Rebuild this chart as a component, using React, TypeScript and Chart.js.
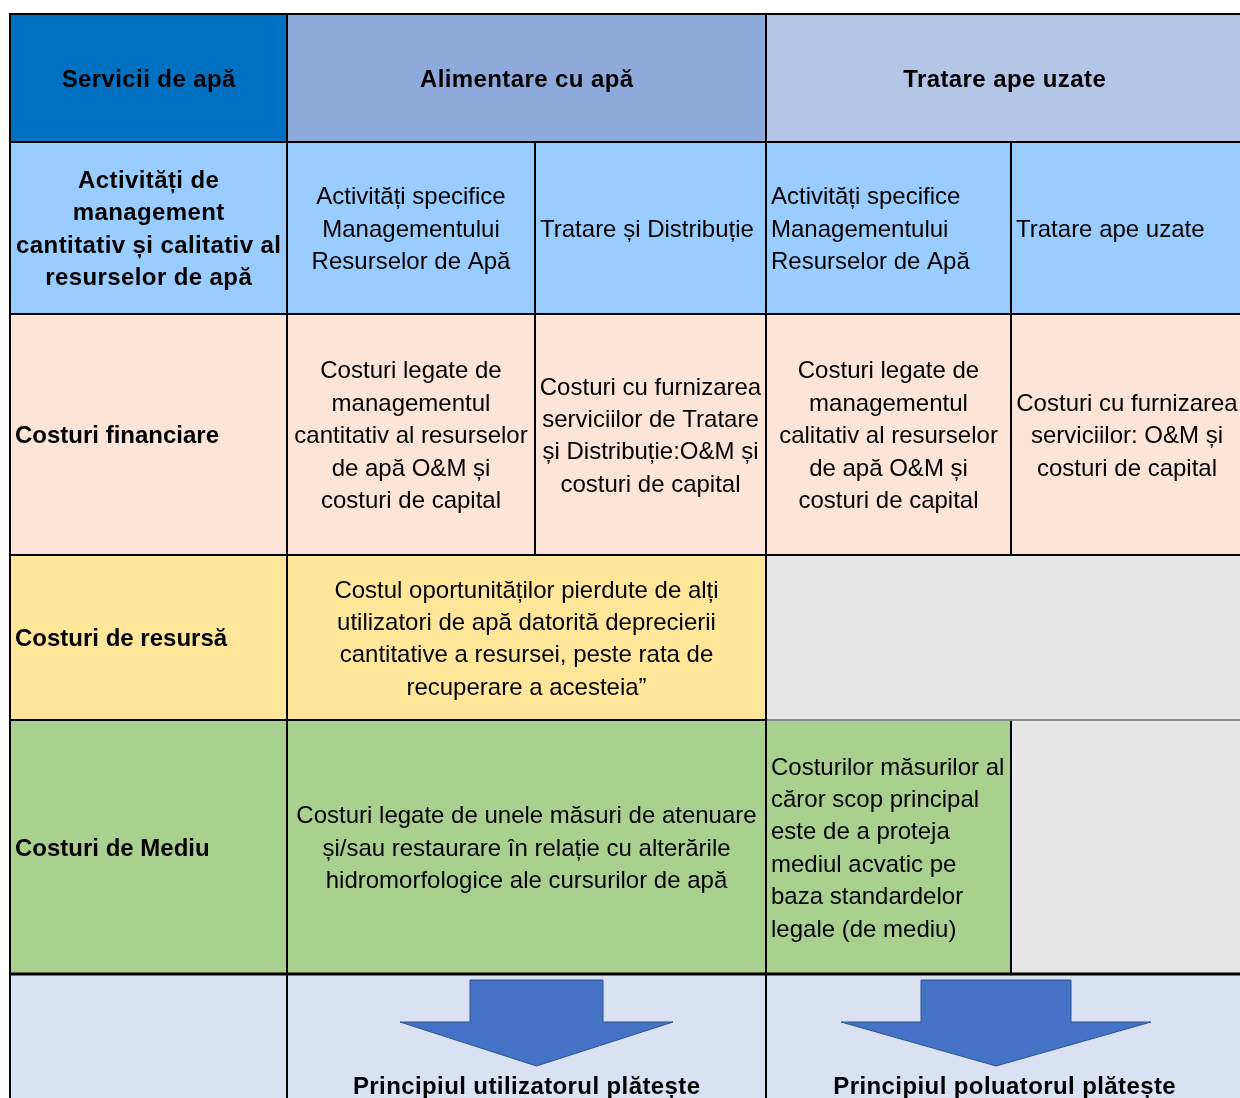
import React, { useEffect, useRef } from "react";
import { Chart, registerables } from "chart.js";

Chart.register(...registerables);

// ---- Data (texts of the table) ----
const headerTitles = ["Servicii de apă", "Alimentare cu apă", "Tratare ape uzate"];
const rowTitles = [
  ["Activități de", "management", "cantitativ și calitativ al", "resurselor de apă"],
  ["Costuri financiare"],
  ["Costuri de resursă"],
  ["Costuri de Mediu"],
];
const activityTexts = [
  ["Activități specifice", "Managementului", "Resurselor de Apă"],
  ["Tratare și Distribuție"],
  ["Activități specifice", "Managementului", "Resurselor de Apă"],
  ["Tratare ape uzate"],
];
const financialTexts = [
  ["Costuri legate de", "managementul", "cantitativ al resurselor", "de apă O&M și", "costuri de capital"],
  ["Costuri cu furnizarea", "serviciilor de Tratare", "și Distribuție:O&M și", "costuri de capital"],
  ["Costuri legate de", "managementul", "calitativ al resurselor", "de apă O&M și", "costuri de capital"],
  ["Costuri cu furnizarea", "serviciilor: O&M și", "costuri de capital"],
];
const resourceText = [
  "Costul oportunităților pierdute de alți",
  "utilizatori de apă datorită deprecierii",
  "cantitative a resursei, peste rata de",
  "recuperare a acesteia”",
];
const environmentTexts = [
  ["Costuri legate de unele măsuri de atenuare", "și/sau restaurare în relație cu alterările", "hidromorfologice ale cursurilor de apă"],
  ["Costurilor măsurilor al", "căror scop principal", "este de a proteja", "mediul acvatic pe", "baza standardelor", "legale (de mediu)"],
];
const principleTexts = ["Principiul utilizatorul plătește", "Principiul poluatorul plătește"];

// ---- Layout (in scale units) ----
const colX = [10, 287, 535, 766, 1011, 1243];
const rowY = [14, 142, 314, 555, 720, 974, 1130];

type Cell = {
  r0: number; r1: number; c0: number; c1: number;
  fill: string; lines: string[]; bold?: boolean; align?: "center" | "left"; baseline?: number;
};

const C = {
  dark: "#0070C0", alim: "#8EA9DB", trat: "#B4C6E7", act: "#99CCFF",
  fin: "#FCE4D6", res: "#FFE699", gray: "#E7E6E6", env: "#A9D08E", pri: "#D9E1F2",
};

const cells: Cell[] = [
  { r0: 0, r1: 1, c0: 0, c1: 1, fill: C.dark, lines: [headerTitles[0]], bold: true },
  { r0: 0, r1: 1, c0: 1, c1: 3, fill: C.alim, lines: [headerTitles[1]], bold: true },
  { r0: 0, r1: 1, c0: 3, c1: 5, fill: C.trat, lines: [headerTitles[2]], bold: true },

  { r0: 1, r1: 2, c0: 0, c1: 1, fill: C.act, lines: rowTitles[0], bold: true },
  { r0: 1, r1: 2, c0: 1, c1: 2, fill: C.act, lines: activityTexts[0] },
  { r0: 1, r1: 2, c0: 2, c1: 3, fill: C.act, lines: activityTexts[1], align: "left" },
  { r0: 1, r1: 2, c0: 3, c1: 4, fill: C.act, lines: activityTexts[2], align: "left" },
  { r0: 1, r1: 2, c0: 4, c1: 5, fill: C.act, lines: activityTexts[3], align: "left" },

  { r0: 2, r1: 3, c0: 0, c1: 1, fill: C.fin, lines: rowTitles[1], bold: true, align: "left" },
  { r0: 2, r1: 3, c0: 1, c1: 2, fill: C.fin, lines: financialTexts[0] },
  { r0: 2, r1: 3, c0: 2, c1: 3, fill: C.fin, lines: financialTexts[1] },
  { r0: 2, r1: 3, c0: 3, c1: 4, fill: C.fin, lines: financialTexts[2] },
  { r0: 2, r1: 3, c0: 4, c1: 5, fill: C.fin, lines: financialTexts[3] },

  { r0: 3, r1: 4, c0: 0, c1: 1, fill: C.res, lines: rowTitles[2], bold: true, align: "left" },
  { r0: 3, r1: 4, c0: 1, c1: 3, fill: C.res, lines: resourceText },
  { r0: 3, r1: 4, c0: 3, c1: 5, fill: C.gray, lines: [] },

  { r0: 4, r1: 5, c0: 0, c1: 1, fill: C.env, lines: rowTitles[3], bold: true, align: "left" },
  { r0: 4, r1: 5, c0: 1, c1: 3, fill: C.env, lines: environmentTexts[0] },
  { r0: 4, r1: 5, c0: 3, c1: 4, fill: C.env, lines: environmentTexts[1], align: "left" },
  { r0: 4, r1: 5, c0: 4, c1: 5, fill: C.gray, lines: [] },

  { r0: 5, r1: 6, c0: 0, c1: 1, fill: C.pri, lines: [] },
  { r0: 5, r1: 6, c0: 1, c1: 3, fill: C.pri, lines: [principleTexts[0]], bold: true, baseline: 1094 },
  { r0: 5, r1: 6, c0: 3, c1: 5, fill: C.pri, lines: [principleTexts[1]], bold: true, baseline: 1094 },
];

// arrows: [centerX, shaftHalfWidth, headHalfWidth, top, shoulder, tip]
const arrows = [
  [536.5, 66.5, 136.5, 980, 1022, 1066],
  [996, 75, 155, 980, 1022, 1066],
];

const FONT = '"Liberation Sans", Arial, sans-serif';
const LINE_H = 32.4;

const tablePlugin = {
  id: "tablePlugin",
  afterDraw(chart: any) {
    const ctx = chart.ctx as CanvasRenderingContext2D;
    const xs = chart.scales.x;
    const ys = chart.scales.y;
    const px = (v: number) => xs.getPixelForValue(v);
    const py = (v: number) => ys.getPixelForValue(v);
    ctx.save();
    // fills
    for (const c of cells) {
      const x0 = px(colX[c.c0]), x1 = px(colX[c.c1]);
      const y0 = py(rowY[c.r0]), y1 = py(rowY[c.r1]);
      ctx.fillStyle = c.fill;
      ctx.fillRect(x0, y0, x1 - x0, y1 - y0);
    }
    // borders
    ctx.strokeStyle = "#000";
    for (const c of cells) {
      const x0 = px(colX[c.c0]), x1 = px(colX[c.c1]);
      const y0 = py(rowY[c.r0]), y1 = py(rowY[c.r1]);
      ctx.lineWidth = 2;
      ctx.strokeRect(x0, y0, x1 - x0, y1 - y0);
    }
    // thicker line above last row
    ctx.lineWidth = 3;
    ctx.beginPath();
    ctx.moveTo(px(colX[0]) - 1, py(rowY[5]));
    ctx.lineTo(px(colX[5]), py(rowY[5]));
    ctx.stroke();
    // gray segment under the gray resource cell
    ctx.strokeStyle = "#8c8c8c";
    ctx.lineWidth = 2;
    ctx.beginPath();
    ctx.moveTo(px(colX[3]) + 1, py(rowY[4]));
    ctx.lineTo(px(colX[5]), py(rowY[4]));
    ctx.stroke();

    // arrows
    for (const a of arrows) {
      const [cx, sh, hh, top, sho, tip] = a;
      ctx.beginPath();
      ctx.moveTo(px(cx - sh), py(top));
      ctx.lineTo(px(cx + sh), py(top));
      ctx.lineTo(px(cx + sh), py(sho));
      ctx.lineTo(px(cx + hh), py(sho));
      ctx.lineTo(px(cx), py(tip));
      ctx.lineTo(px(cx - hh), py(sho));
      ctx.lineTo(px(cx - sh), py(sho));
      ctx.closePath();
      ctx.fillStyle = "#4472C4";
      ctx.fill();
      ctx.strokeStyle = "#2F528F";
      ctx.lineWidth = 1;
      ctx.stroke();
    }

    // texts
    ctx.fillStyle = "#000";
    ctx.textBaseline = "alphabetic";
    for (const c of cells) {
      if (!c.lines.length) continue;
      const align = c.align || "center";
      ctx.font = `${c.bold ? "bold " : ""}24px ${FONT}`;
      const spacing = c.bold && align === "center" ? 0.4 : 0;
      (ctx as any).letterSpacing = `${spacing}px`;
      const x0 = px(colX[c.c0]), x1 = px(colX[c.c1]);
      const y0 = py(rowY[c.r0]), y1 = py(rowY[c.r1]);
      const n = c.lines.length;
      const base = c.baseline !== undefined ? py(c.baseline) : (y0 + y1) / 2 - ((n - 1) * LINE_H) / 2 + 8.6;
      ctx.textAlign = align;
      const tx = align === "center" ? (x0 + x1) / 2 + spacing / 2 : x0 + 5;
      c.lines.forEach((ln, i) => ctx.fillText(ln, tx, base + i * LINE_H));
    }
    (ctx as any).letterSpacing = "0px";
    ctx.restore();
  },
};

export default function App() {
  const ref = useRef<HTMLCanvasElement | null>(null);
  useEffect(() => {
    if (!ref.current) return;
    const chart = new Chart(ref.current, {
      type: "scatter",
      data: { datasets: [] },
      options: {
        animation: false,
        responsive: false,
        devicePixelRatio: 1,
        layout: { padding: 0 },
        plugins: { legend: { display: false }, tooltip: { enabled: false } },
        scales: {
          x: { type: "linear", min: 0, max: 1240, display: false },
          y: { type: "linear", min: 0, max: 1098, reverse: true, display: false },
        },
      },
      plugins: [tablePlugin],
    });
    return () => chart.destroy();
  }, []);
  return (
    <div style={{ position: "absolute", left: 0, top: 0, width: 1240, height: 1098, background: "#fff" }}>
      <canvas ref={ref} width={1240} height={1098} style={{ display: "block" }} />
    </div>
  );
}
